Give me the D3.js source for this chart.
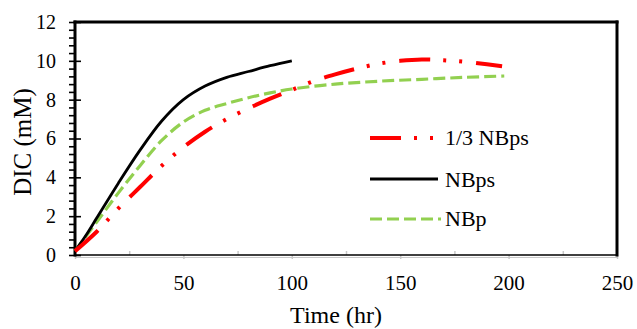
<!DOCTYPE html>
<html>
<head>
<meta charset="utf-8">
<script src="https://cdn.jsdelivr.net/npm/d3@7"></script>
<style>
  html, body { margin: 0; padding: 0; background: #fff; }
  svg { display: block; }
  text { font-family: "Liberation Serif", "Times New Roman", serif; fill: #000; }
</style>
</head>
<body>
<svg id="chart" width="637" height="329"></svg>
<script>
// ---- data ----
const seriesNames = ["1/3 NBps", "NBps", "NBp"];
const thirdNBpsTime = [0, 10, 20, 30, 40, 50, 60, 70, 80, 90, 100, 110, 120, 130, 140, 150, 160, 170, 180, 190, 197];
const thirdNBpsDIC  = [0.2, 1.2, 2.4, 3.5, 4.6, 5.55, 6.35, 7.0, 7.55, 8.05, 8.5, 8.95, 9.3, 9.6, 9.85, 10.0, 10.07, 10.03, 9.95, 9.82, 9.72];
const nbpsTime = [0, 5, 10, 20, 30, 40, 50, 60, 70, 80, 90, 100];
const nbpsDIC  = [0.2, 1.0, 1.9, 3.7, 5.4, 6.9, 8.0, 8.7, 9.15, 9.45, 9.75, 10.0];
const nbpTime = [0, 10, 20, 30, 40, 50, 60, 70, 80, 90, 100, 120, 140, 160, 180, 198];
const nbpDIC  = [0.2, 1.7, 3.2, 4.6, 5.9, 6.85, 7.45, 7.8, 8.1, 8.35, 8.55, 8.8, 8.95, 9.05, 9.15, 9.22];
const xMajorTicks = [0, 50, 100, 150, 200, 250];
const xMinorTicks = [25, 75, 125, 175, 225];
const yMajorTicks = [0, 2, 4, 6, 8, 10, 12];
const yMinorTicks = d3.range(0, 31).map(i => +(i * 0.4).toFixed(1));
const xTitle = "Time (hr)";
const yTitle = "DIC (mM)";

// ---- layout ----
const svg = d3.select("#chart");
const L = 75, R = 617, T = 22, B = 255;
const x = d3.scaleLinear().domain([0, 250]).range([L, R]);
const y = d3.scaleLinear().domain([0, 12]).range([B, T]);

// x axis (gray ticks)
const gxMaj = svg.append("g").attr("transform", `translate(0,${B})`)
  .call(d3.axisBottom(x).tickValues(xMajorTicks).tickSizeInner(4).tickSizeOuter(0).tickPadding(16).tickFormat(d3.format("d")));
gxMaj.select(".domain").remove();
gxMaj.selectAll("line").attr("stroke", "#c8c8c8").attr("stroke-width", 1.5);
gxMaj.selectAll("text").attr("font-size", 21).attr("font-family", "Liberation Serif");

const gxMin = svg.append("g").attr("transform", `translate(0,${B})`)
  .call(d3.axisBottom(x).tickValues(xMinorTicks).tickSizeInner(-4).tickSizeOuter(0).tickFormat(""));
gxMin.select(".domain").remove();
gxMin.selectAll("line").attr("stroke", "#c8c8c8").attr("stroke-width", 1.5);

// bottom axis lines
svg.append("line").attr("x1", L).attr("x2", R).attr("y1", B + 2.5).attr("y2", B + 2.5)
  .attr("stroke", "#c8c8c8").attr("stroke-width", 1);
svg.append("line").attr("x1", L).attr("x2", R).attr("y1", B).attr("y2", B)
  .attr("stroke", "#000").attr("stroke-width", 1.6);

// y axis: minor outward ticks
const gyMin = svg.append("g").attr("transform", `translate(${L},0)`)
  .call(d3.axisLeft(y).tickValues(yMinorTicks).tickSizeInner(6).tickSizeOuter(0).tickFormat(""));
gyMin.select(".domain").remove();
gyMin.selectAll("line").attr("stroke", "#000").attr("stroke-width", 1.6);

// y axis: major inward ticks + labels
const gyMaj = svg.append("g").attr("transform", `translate(${L},0)`)
  .call(d3.axisLeft(y).tickValues(yMajorTicks).tickSizeInner(-6).tickSizeOuter(0).tickPadding(19).tickFormat(d3.format("d")));
gyMaj.select(".domain").remove();
gyMaj.selectAll("line").attr("stroke", "#000").attr("stroke-width", 1.6);
gyMaj.selectAll("text").attr("font-size", 20).attr("font-family", "Liberation Serif");

// frame
svg.append("line").attr("x1", L).attr("x2", L).attr("y1", T - 1.5).attr("y2", B + 1.5)
  .attr("stroke", "#000").attr("stroke-width", 3);
svg.append("line").attr("x1", L - 1.5).attr("x2", R + 1.5).attr("y1", T).attr("y2", T)
  .attr("stroke", "#000").attr("stroke-width", 3);
svg.append("line").attr("x1", R).attr("x2", R).attr("y1", T - 1.5).attr("y2", B + 1.5)
  .attr("stroke", "#000").attr("stroke-width", 3);

// series
const line = d3.line().x(d => x(d[0])).y(d => y(d[1])).curve(d3.curveCatmullRom.alpha(0.5));
const zip = (a, b) => a.map((v, i) => [v, b[i]]);

const styles = {
  "1/3 NBps": { color: "#ff0000", width: 4, dash: "31,13,3,13,3,14" },
  "NBps": { color: "#000000", width: 2.8, dash: null },
  "NBp": { color: "#92d050", width: 3.2, dash: "12,5" }
};
const seriesData = {
  "1/3 NBps": zip(thirdNBpsTime, thirdNBpsDIC),
  "NBps": zip(nbpsTime, nbpsDIC),
  "NBp": zip(nbpTime, nbpDIC)
};

["NBp", "NBps", "1/3 NBps"].forEach(name => {
  const s = styles[name];
  svg.append("path").datum(seriesData[name])
    .attr("d", line)
    .attr("fill", "none")
    .attr("stroke", s.color)
    .attr("stroke-width", s.width)
    .attr("stroke-dasharray", s.dash)
    .attr("stroke-linecap", "butt");
});

// legend
const legendRows = [
  { name: "1/3 NBps", ly: 138, x2: 434, ty: 145 },
  { name: "NBps", ly: 179, x2: 438, ty: 187 },
  { name: "NBp", ly: 219, x2: 441, ty: 226 }
];
legendRows.forEach(r => {
  const s = styles[r.name];
  svg.append("line").attr("x1", 370).attr("x2", r.x2).attr("y1", r.ly).attr("y2", r.ly)
    .attr("stroke", s.color).attr("stroke-width", s.width).attr("stroke-dasharray", s.dash);
  svg.append("text").attr("x", 445).attr("y", r.ty).attr("font-size", 22).text(r.name);
});

// axis titles
svg.append("text").attr("x", 336).attr("y", 323).attr("text-anchor", "middle")
  .attr("font-size", 24).text(xTitle);
svg.append("text").attr("transform", "translate(31,142) rotate(-90)").attr("text-anchor", "middle")
  .attr("font-size", 25).text(yTitle);
</script>
</body>
</html>
